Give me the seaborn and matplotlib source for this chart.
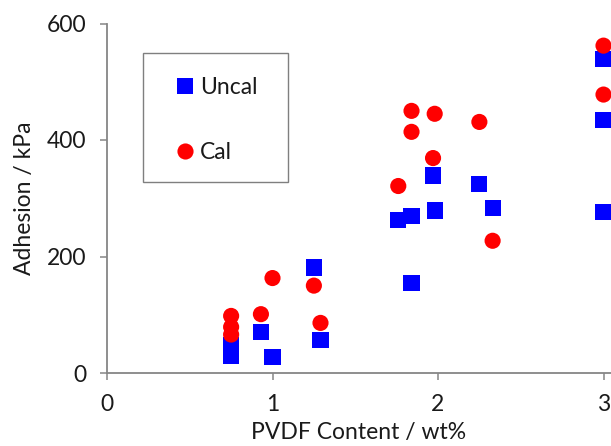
import matplotlib
matplotlib.use("Agg")
import matplotlib.pyplot as plt
import seaborn as sns
import pandas as pd
from matplotlib.patches import Rectangle

# Data
uncal_x = [0.75, 0.75, 0.93, 1.00, 1.25, 1.29, 1.76, 1.84, 1.84, 1.97, 1.98, 2.25, 2.33, 3.00, 3.00, 3.00]
uncal_y = [30, 48, 71, 27, 181, 56, 263, 270, 154, 339, 279, 325, 283, 539, 434, 277]
cal_x = [0.75, 0.75, 0.75, 0.93, 1.00, 1.25, 1.29, 1.76, 1.84, 1.84, 1.98, 1.97, 2.25, 2.33, 3.00, 3.00]
cal_y = [98, 79, 66, 101, 163, 150, 86, 321, 450, 414, 445, 369, 431, 227, 562, 478]
series_names = ["Uncal", "Cal"]
x_ticks = [0, 1, 2, 3]
y_ticks = [0, 200, 400, 600]

df = pd.DataFrame({
    "x": uncal_x + cal_x,
    "y": uncal_y + cal_y,
    "series": [series_names[0]] * len(uncal_x) + [series_names[1]] * len(cal_x),
})

sns.set_style("white")
plt.rcParams["font.family"] = ["Lato", "DejaVu Sans"]

fig = plt.figure(figsize=(6.11, 4.46), dpi=100)
ax = fig.add_axes([107 / 611, 1 - 373 / 446, 1 - 107 / 611, (373 - 23.5) / 446])

sns.scatterplot(
    data=df, x="x", y="y", hue="series", style="series",
    hue_order=series_names, style_order=series_names,
    palette={"Uncal": "#0000FF", "Cal": "#FF0000"},
    markers={"Uncal": "s", "Cal": "o"},
    s=135, linewidth=0, ax=ax, clip_on=True, legend=True,
)

ax.set_xlim(0, (611 - 107) / 165.5)
ax.set_ylim(0, 600)
ax.set_xticks(x_ticks)
ax.set_yticks(y_ticks)
ax.set_xticklabels([str(t) for t in x_ticks])
ax.set_yticklabels([str(t) for t in y_ticks])

gray = "#868686"
for side in ["top", "right"]:
    ax.spines[side].set_visible(False)
for side in ["left", "bottom"]:
    ax.spines[side].set_color(gray)
    ax.spines[side].set_linewidth(1.3)

ax.tick_params(axis="both", direction="out", length=5, width=1.1, color=gray,
               labelsize=16.5, labelcolor="#1a1a1a", pad=10, left=True, bottom=True)

ax.set_xlabel("PVDF Content / wt%", fontsize=16.5, color="#1a1a1a", labelpad=5)
ax.set_ylabel("Adhesion / kPa", fontsize=16.5, color="#1a1a1a", labelpad=8)

# legend frame
ax.add_patch(Rectangle((0.0714, 0.5465), 0.288, 0.369, transform=ax.transAxes,
                       facecolor="white", edgecolor="#7f7f7f", linewidth=1.0, zorder=3))

handles, labels = ax.get_legend_handles_labels()
leg = ax.legend(handles, labels, loc="upper left", bbox_to_anchor=(0.1369, 0.846),
                frameon=False, borderpad=0, borderaxespad=0, handlelength=0.8,
                handletextpad=0.25, labelspacing=1.9, fontsize=16.5, markerscale=1.0)
leg.set_zorder(4)
for t in leg.get_texts():
    t.set_color("#1a1a1a")

fig.savefig("out.png", dpi=100)
